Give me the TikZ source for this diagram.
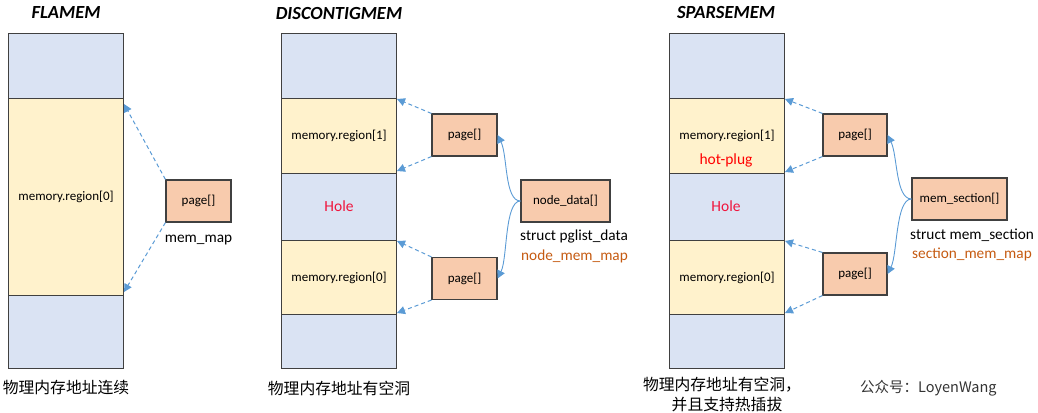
\documentclass[tikz,border=0pt]{standalone}
\usepackage{fontspec}
\setmainfont{Carlito}
\newfontfamily\cjk{Noto Sans CJK SC}
\usetikzlibrary{arrows.meta}
\definecolor{bluef}{HTML}{DAE3F3}
\definecolor{yellowf}{HTML}{FFF2CC}
\definecolor{orangef}{HTML}{F8CBAD}
\definecolor{bordc}{HTML}{404040}
\definecolor{arrc}{HTML}{5B9BD5}
\definecolor{holec}{HTML}{F0143C}
\definecolor{mapc}{HTML}{C55A11}
\definecolor{wmc}{HTML}{333333}
\newcommand\fsz[1]{\fontsize{#1}{#1}\selectfont}
\begin{document}
\begin{tikzpicture}[x=1pt,y=-1pt,
  seg/.style={draw=bordc, line width=1.1pt, anchor=north west, minimum width=115pt, inner sep=0pt, font=\fsz{13}},
  bseg/.style={seg, fill=bluef},
  yseg/.style={seg, fill=yellowf},
  pagebox/.style={draw=bordc, fill=orangef, line width=1.1pt, minimum width=65pt, minimum height=42pt, inner sep=0pt, font=\fsz{13}},
  titletxt/.style={font=\fsz{18.5}\bfseries\itshape},
  lbl/.style={font=\fsz{15.3}, inner sep=0pt},
  captxt/.style={font=\cjk\fsz{15.8}, inner sep=0pt},
  darr/.style={-{Triangle[length=8pt,width=8pt]}, dash pattern=on 4pt off 3pt, draw=arrc, line width=1pt},
  carr/.style={-{Triangle[length=8pt,width=8pt]}, draw=arrc, line width=0.9pt},
  hole/.style={text=holec, font=\fsz{15.5}, inner sep=0pt}
]
\useasboundingbox (0,0) rectangle (1038,412);

% ---------------- FLAMEM ----------------
\node[titletxt] (t1) at (66,13) {FLAMEM};
\node[bseg, minimum height=65pt] (a1) at (8,33) {};
\node[yseg, minimum height=197pt] (a2) at (8,98) {memory.region[0]};
\node[bseg, minimum height=73pt] (a3) at (8,295) {};
\node[pagebox] (ap) at (198.5,201) {page[]};
\node[lbl] (amap) at (198.5,240) {mem\_map};
\coordinate (at1) at (124,104);
\coordinate (at2) at (124,292);
\draw[darr] (ap.north west) -- (at1);
\draw[darr] (ap.south west) -- (at2);
\node[captxt] (c1) at (66,388) {物理内存地址连续};

% ---------------- DISCONTIGMEM ----------------
\node[titletxt] (t2) at (339,13) {DISCONTIGMEM};
\node[bseg, minimum height=65pt] (b1) at (281,33) {};
\node[yseg, minimum height=75pt] (b2) at (281,98) {memory.region[1]};
\node[bseg, minimum height=67pt] (b3) at (281,173) {};
\node[yseg, minimum height=74pt] (b4) at (281,240) {memory.region[0]};
\node[bseg, minimum height=54pt] (b5) at (281,314) {};
\node[hole] (bh) at (339,206) {Hole};
\node[pagebox] (bp1) at (464.5,135) {page[]};
\node[pagebox] (bp2) at (464.5,278.5) {page[]};
\node[pagebox, minimum width=89pt] (bn) at (565.5,201) {node\_data[]};
\node[lbl, anchor=west] (bs) at (520,237) {struct pglist\_data};
\node[lbl, anchor=west, text=mapc] (bm) at (521,256) {node\_mem\_map};
\coordinate (bt1) at (397,99);
\coordinate (bt2) at (397,171);
\coordinate (bt3) at (397,241);
\coordinate (bt4) at (397,313);
\draw[darr] (bp1.north west) -- (bt1);
\draw[darr] (bp1.south west) -- (bt2);
\draw[darr] (bp2.north west) -- (bt3);
\draw[darr] (bp2.south west) -- (bt4);
\draw[carr] (bn.west) .. controls +(-16,0) and +(10,20) .. (bp1.east);
\draw[carr] (bn.west) .. controls +(-16,0) and +(10,-20) .. (bp2.east);
\node[captxt] (c2) at (339,388) {物理内存地址有空洞};

% ---------------- SPARSEMEM ----------------
\node[titletxt] (t3) at (726,13) {SPARSEMEM};
\node[bseg, minimum height=65pt] (s1) at (669,33) {};
\node[yseg, minimum height=75pt] (s2) at (669,98) {memory.region[1]};
\node[bseg, minimum height=67pt] (s3) at (669,173) {};
\node[yseg, minimum height=74pt] (s4) at (669,240) {memory.region[0]};
\node[bseg, minimum height=54pt] (s5) at (669,314) {};
\node[hole, text=red] (shp) at (726,160) {hot-plug};
\node[hole] (sh) at (726,206) {Hole};
\node[pagebox, minimum width=64pt] (sp1) at (855,135) {page[]};
\node[pagebox, minimum width=64pt] (sp2) at (855,274) {page[]};
\node[pagebox, minimum width=95pt] (sn) at (959.5,199) {mem\_section[]};
\node[lbl, anchor=west] (ss) at (910,235) {struct mem\_section};
\node[lbl, anchor=west, text=mapc] (sm) at (912,254) {section\_mem\_map};
\coordinate (st1) at (785,99);
\coordinate (st2) at (785,172);
\coordinate (st3) at (785,241);
\coordinate (st4) at (785,313);
\draw[darr] (sp1.north west) -- (st1);
\draw[darr] (sp1.south west) -- (st2);
\draw[darr] (sp2.north west) -- (st3);
\draw[darr] (sp2.south west) -- (st4);
\draw[carr] (sn.west) .. controls +(-16,0) and +(10,20) .. (sp1.east);
\draw[carr] (sn.west) .. controls +(-16,0) and +(10,-20) .. (sp2.east);
\node[captxt] (c3a) at (722,385) {物理内存地址有空洞，};
\node[captxt] (c3b) at (727,405) {并且支持热插拔};
\node[font=\cjk\fsz{14.5}, text=wmc, anchor=west, inner sep=0pt] (wm) at (860,388) {公众号：LoyenWang};
\end{tikzpicture}
\end{document}
